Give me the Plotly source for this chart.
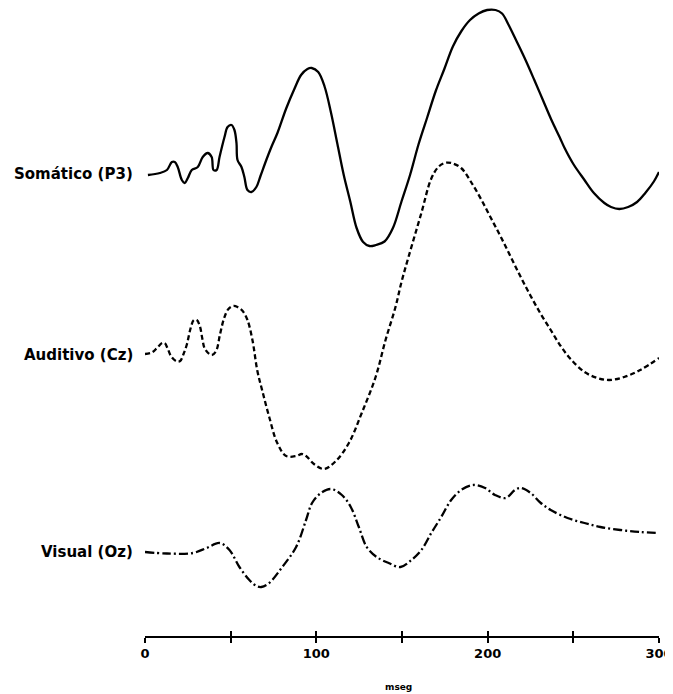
import plotly.graph_objects as go

# Time axis (ms) and amplitudes (arbitrary units, positive = up)
som_t = [1.7, 8.7, 12.8, 15.7, 17.4, 19.1, 21.5, 23.2, 25, 27.3, 30.8, 33.7, 36.6, 38.9, 40,
         41.8, 43.5, 46.4, 48.2, 50.5, 52.2, 53.4, 54, 56.3, 58, 59.8, 62.1, 65, 67.4, 70.8, 74,
         77.3, 82.4, 87.3, 91.1, 94.8, 97.3, 101.1, 104.8, 108.6, 112.3, 116, 119.8, 123.5, 127.3,
         131, 134.8, 139.8, 144.7, 149.7, 154.7, 159.7, 164.7, 169.7, 174.7, 179.7, 184.7, 189.7,
         194.7, 199.7, 204.6, 208.4, 212.1, 217.1, 222.1, 227.1, 232.1, 237.1, 242.1, 244.9, 250,
         256.5, 262, 268.1, 272, 276.8, 282, 287.2, 292, 297, 300]
som_v = [-0.1, 0.1, 0.4, 1.2, 1.2, 0.7, -0.6, -0.9, -0.4, 0.4, 0.7, 1.7, 2.1, 1.7, 0.4, 0.4, 1.7,
         3.7, 4.7, 4.9, 4.4, 3.1, 1.4, 0.7, -0.3, -1.6, -1.8, -1.3, -0.2, 1.4, 2.8, 4.1, 6.55, 8.55,
         9.9, 10.5, 10.6, 10.2, 8.75, 6.1, 3.0, -0.1, -2.75, -5.4, -6.8, -7.2, -7.1, -6.75, -5.4,
         -2.75, -0.1, 3.0, 5.65, 8.3, 10.5, 12.75, 14.3, 15.4, 16.05, 16.4, 16.4, 16.05, 14.95, 13.2,
         11.4, 9.45, 7.45, 5.45, 3.65, 2.6, 1.0, -0.6, -1.9, -2.9, -3.3, -3.5, -3.3, -2.8, -1.9,
         -0.75, 0.2]

aud_t = [0, 4, 7, 10, 11.5, 13.3, 15.5, 18.6, 20.5, 22.5, 24.5, 26.5, 28.5, 30.2, 32, 33.5, 35,
         38.9, 41.5, 43.7, 46.2, 48.7, 51.5, 54, 57, 59.8, 62.7, 65.6, 68.5, 72.5, 77.2, 82.4, 88.2,
         91.5, 94, 98.6, 104.5, 111.4, 119, 126.5, 134.6, 140.4, 146.2, 149.7, 153.8, 161.3, 167,
         171.2, 175, 178.7, 184.5, 190.3, 196.1, 201.9, 207.7, 213.5, 219.3, 225.1, 231, 236.8,
         242.6, 248.4, 256.5, 264, 271, 279.7, 289, 300]
aud_v = [0.1, 0.25, 0.7, 1.2, 1.2, 0.6, -0.2, -0.65, -0.6, 0.1, 1.1, 2.6, 3.5, 3.5, 2.9, 1.6, 0.6,
         0.0, 0.4, 2.0, 3.7, 4.6, 4.9, 4.8, 4.4, 3.5, 1.5, -1.6, -3.6, -6.2, -8.8, -10.1, -10.1,
         -9.9, -10.1, -10.9, -11.4, -10.6, -8.8, -5.8, -2.2, 1.5, 4.8, 7.3, 9.8, 14.2, 17.6,
         18.8, 19.2, 19.2, 18.7, 17.3, 15.6, 13.7, 11.8, 9.8, 7.8, 5.9, 4.1, 2.5, 0.9, -0.4, -1.7,
         -2.3, -2.5, -2.2, -1.5, -0.3]

vis_t = [0, 12.8, 27.9, 36, 43.5, 49.3, 55.1, 60.9, 65, 67.9, 72.5, 80.1, 88.2, 94, 97.5, 102.7,
         108.5, 114.9, 120.1, 124.8, 129.4, 135.2, 142.2, 149.1, 155.5, 161.3, 167.1, 172.9, 178.7,
         184.5, 191.5, 198.5, 204.3, 210.6, 215.9, 219.3, 225.1, 231, 236.8, 246.6, 256.5, 265.8,
         277.4, 289, 300]
vis_v = [0.0, -0.15, -0.1, 0.4, 0.9, 0.2, -1.5, -2.8, -3.4, -3.5, -3.1, -1.5, 0.5, 3.2, 4.9, 5.9,
         6.3, 5.7, 4.5, 2.5, 0.5, -0.5, -1.1, -1.5, -0.8, 0.2, 1.9, 3.5, 5.2, 6.2, 6.7, 6.4, 5.7,
         5.4, 6.2, 6.4, 5.9, 4.9, 4.2, 3.4, 2.9, 2.5, 2.2, 2.0, 1.9]

labels = ["Somático (P3)", "Auditivo (Cz)", "Visual (Oz)"]
offsets = [46.2, 28.1, 8.4]
dashes = ["solid", "5px,3px", "9px,3px,2px,3px"]

tick_vals = [0, 50, 100, 150, 200, 250, 300]
tick_text = ["0", "", "100", "", "200", "", "300"]
x_title = "mseg"

fig = go.Figure()
series = [(som_t, som_v), (aud_t, aud_v), (vis_t, vis_v)]
for (t, v), name, off, dash in zip(series, labels, offsets, dashes):
    fig.add_trace(go.Scatter(
        x=t, y=[off + a for a in v], mode="lines", name=name,
        line=dict(color="black", width=2.3, dash=dash, shape="spline", smoothing=1.0),
        showlegend=False, hoverinfo="skip", cliponaxis=False))
    fig.add_annotation(x=-0.019, y=off, xref="paper", yref="y", text=name, showarrow=False,
                       xanchor="right", yanchor="middle",
                       font=dict(family="DejaVu Sans", size=15, color="black", weight="bold"))

fig.add_annotation(x=148, y=-0.081, xref="x", yref="paper", text=x_title, showarrow=False,
                   xanchor="center", yanchor="middle",
                   font=dict(family="DejaVu Sans", size=9, color="black", weight="bold"))

# invisible trace on the overlay axis so its ticks are drawn
fig.add_trace(go.Scatter(x=[0, 300], y=[None, None], xaxis="x2", mode="lines",
                         showlegend=False, hoverinfo="skip"))

fig.update_layout(
    width=665, height=686,
    margin=dict(l=137, r=11, t=0, b=58),
    paper_bgcolor="white", plot_bgcolor="white",
    xaxis=dict(range=[0, 300], tickvals=tick_vals, ticktext=tick_text, ticks="outside",
               ticklen=5, tickwidth=1.5, tickcolor="black", showline=True, linecolor="black",
               linewidth=1.5, showgrid=False, zeroline=False, ticklabeloverflow="allow",
               tickfont=dict(family="DejaVu Sans", size=13, color="black", weight="bold")),
    xaxis2=dict(range=[0, 300], overlaying="x", anchor="y", side="bottom", tickvals=tick_vals,
                ticks="inside", ticklen=5, tickwidth=1.5, tickcolor="black",
                showticklabels=False, showline=False, showgrid=False, zeroline=False),
    yaxis=dict(range=[0, 62.8], visible=False, showgrid=False, zeroline=False),
)

fig.write_html("out.html")
